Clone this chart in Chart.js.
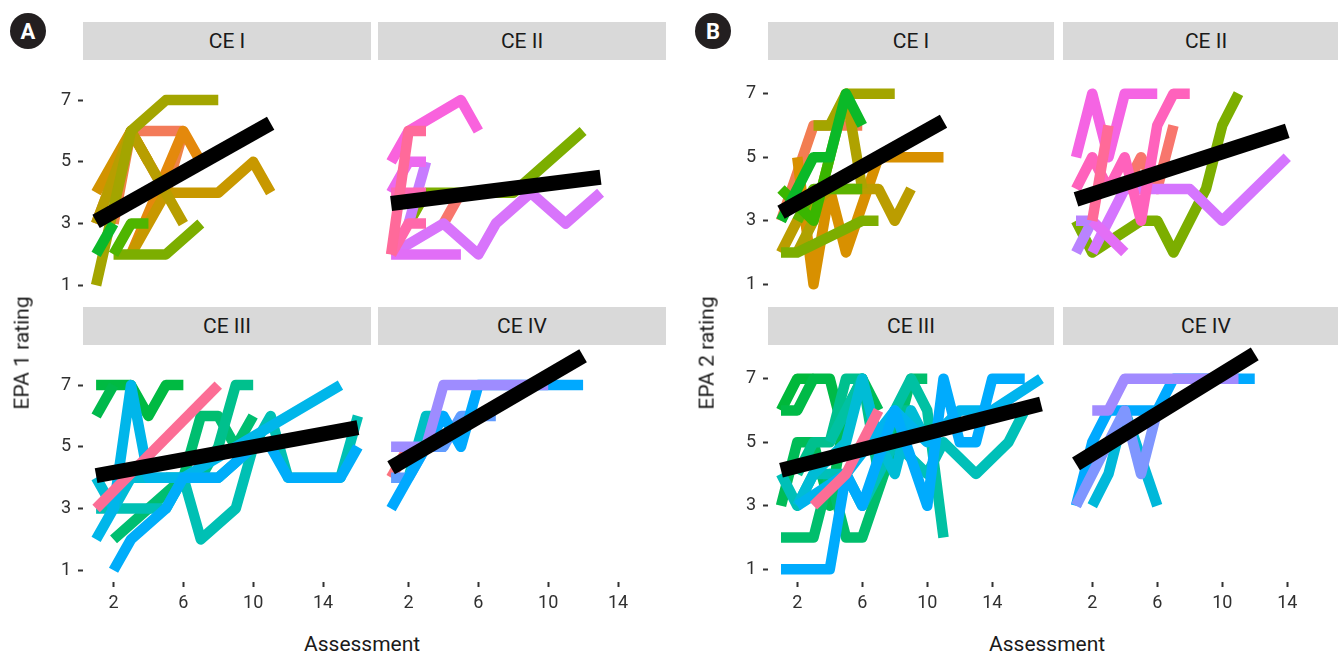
<!DOCTYPE html>
<html><head><meta charset="utf-8">
<script src="https://cdn.jsdelivr.net/npm/chart.js@4.4.0/dist/chart.umd.min.js"></script>
<style>
html,body{margin:0;padding:0;background:#fff;width:1338px;height:657px;overflow:hidden;font-family:Roboto,sans-serif;}
body{position:relative;}
.strip{position:absolute;background:#D9D9D9;color:#1A1A1A;font-size:21px;display:flex;align-items:center;justify-content:center;}
.badge{position:absolute;width:36px;height:36px;border-radius:50%;background:#231F20;color:#fff;font-weight:bold;font-size:22px;display:flex;align-items:center;justify-content:center;}
.title{position:absolute;color:#1A1A1A;font-size:21px;white-space:nowrap;}
canvas{position:absolute;}
</style></head><body>
<script>
// ---------- data ----------
const xTicks = [2, 6, 10, 14];
const yTicks = [1, 3, 5, 7];
const facetNames = ['CE I', 'CE II', 'CE III', 'CE IV'];

// Panel A (EPA 1 rating)
const a1Lines = [
  [[1,3],[3,6],[6,6]],
  [[2,3],[3,6],[5,4],[6,6]],
  [[3,2],[6,6],[7,5]],
  [[1,4],[3,6],[4,5]],
  [[3,2],[5,4],[8,4],[10,5],[11,4]],
  [[1,3],[3,6],[6,3]],
  [[1,1],[3,6],[5,7],[8,7]],
  [[2,2],[5,2],[7,3]],
  [[2,2],[3,3],[4,3]],
  [[1,2],[2,3]]
];
const a1Colors = ['#F37B59','#EE8247','#E4890C','#D29300','#C89800','#B89E00','#A3A500','#7CAE00','#4FB500','#0CB82A'];
const a1Trend = [[1,3.07],[11,6.25]];

const a2Lines = [
  [[4,3],[5,4]],
  [[2,3],[3,4],[8,4],[12,6]],
  [[2,3],[3,5]],
  [[1,2],[4,3],[6,2],[7,3],[9,4],[11,3],[13,4]],
  [[1,2],[5,2]],
  [[1,4],[2,5],[3,5]],
  [[1,5],[2,6],[5,7],[6,6]],
  [[1,4],[2,4],[3,4]],
  [[1,2],[2,3],[3,3]],
  [[1,2],[2,6],[3,6]]
];
const a2Colors = ['#F8766D','#7CAE00','#C77CFF','#D874FB','#E16EF7','#EC69EF','#F962DD','#FF66B5','#FF68AA','#FF6A9A'];
const a2Trend = [[1,3.65],[13,4.5]];

const a3Lines = [
  [[1,7],[3,7],[4,6],[5,7],[6,7]],
  [[1,6],[2,7]],
  [[2,2],[4,3],[6,4],[7,6],[8,6],[9,5],[10,6]],
  [[5,4],[6,4],[7,4],[8,5],[9,7],[10,7]],
  [[1,3],[5,3],[6,4],[7,2],[9,3],[10,5],[11,6],[12,4],[15,4],[16,6]],
  [[1,4],[2,3],[3,4],[8,4],[10,5]],
  [[1,2],[2,3],[3,7],[4,4],[6,4],[15,7]],
  [[2,1],[3,2],[5,3],[6,4],[8,4],[10,5],[11,5],[12,4],[15,4],[16,5]],
  [[1,3],[8,7]]
];
const a3Colors = ['#00BA42','#00B94C','#00BE70','#00C08D','#00C0B4','#00BCD6','#00B6EA','#00ADFA','#FC6D95'];
const a3Trend = [[1,4.07],[16,5.62]];

const a4Lines = [
  [[1,4],[2,5]],
  [[2,4],[3,6],[4,6]],
  [[1,4],[2,4],[3,5],[4,5],[5,6],[7,6]],
  [[1,3],[2,4],[3,5],[4,6],[5,5],[6,7],[12,7]],
  [[1,5],[3,5],[4,7],[10,7]]
];
const a4Colors = ['#FB727E','#00BFC4','#619CFF','#00A9FF','#9E8CFF'];
const a4Trend = [[1,4.32],[12,7.95]];

// Panel B (EPA 2 rating)
const b1Lines = [
  [[1,3],[3,6],[6,6]],
  [[2,5],[3,1],[4,4],[5,2],[7,5],[11,5]],
  [[1,2],[2,3],[4,4],[7,4],[8,3],[9,4]],
  [[2,2],[3,3],[5,7],[6,4]],
  [[3,6],[4,6],[5,7],[8,7]],
  [[1,2],[2,2],[6,3],[7,3]],
  [[2,3],[3,4],[6,4]],
  [[1,4],[3,3],[4,5]],
  [[1,3],[3,5],[4,5],[5,7],[6,6]]
];
const b1Colors = ['#F27D52','#D89000','#BB9D00','#AFA200','#A3A500','#7CAE00','#5BB300','#39B600','#0BB928'];
const b1Trend = [[1,3.27],[11,6.13]];

const b2Lines = [
  [[4,4],[5,5],[6,4],[7,6]],
  [[1,3],[2,2],[5,3],[6,3],[7,2],[9,4],[10,6],[11,7]],
  [[1,3],[2,3],[1,2]],
  [[2,2],[3,3],[4,4],[8,4],[10,3],[14,5]],
  [[2,3],[4,2]],
  [[1,5],[2,7],[3,5],[4,7],[6,7]],
  [[1,4],[2,5],[3,4],[4,5],[5,3],[6,6],[7,7],[8,7]],
  [[2,3],[3,6]]
];
const b2Colors = ['#F8766D','#7CAE00','#B983FF','#D575FE','#E36EF6','#F564E3','#FF62BC','#FF6A98'];
const b2Trend = [[1,3.67],[14,5.83]];

const b3Lines = [
  [[1,6],[2,7],[3,7]],
  [[1,6],[2,6],[3,7],[4,7],[5,5]],
  [[1,3],[2,5],[3,5],[4,3],[5,6],[6,7],[7,6]],
  [[1,2],[3,2],[4,4],[5,2],[6,2],[8,5],[9,7],[10,7]],
  [[2,4],[3,5],[4,5],[5,7],[6,7],[7,4],[8,6],[9,6]],
  [[4,5],[6,7],[7,5],[8,6],[9,7],[10,6],[11,2]],
  [[1,4],[2,3],[3,4],[5,4],[6,3],[8,5],[10,4],[11,5],[13,4],[15,5],[16,6]],
  [[2,3],[3,4],[5,5],[6,7],[7,5],[8,4],[9,6],[10,5]],
  [[2,3],[5,4],[8,6],[10,5],[12,6],[14,6],[17,7]],
  [[1,1],[4,1],[5,4],[6,3],[8,6],[10,3],[11,7],[12,5],[13,5],[14,7],[16,7]],
  [[3,3],[5,4],[7,6]]
];
const b3Colors = ['#00B83A','#00BA47','#00BC56','#00BE6C','#00C08E','#00C1A3','#00C0B8','#00BCD6','#00B4EE','#00ABFD','#FC6D95'];
const b3Trend = [[1,4.12],[17,6.2]];

const b4Lines = [
  [[2,3],[3,4],[4,6],[6,3]],
  [[1,3],[2,5],[3,6],[6,6],[7,7],[12,7]],
  [[1,3],[4,6],[5,4],[6,6]],
  [[2,6],[3,6],[4,7],[11,7]]
];
const b4Colors = ['#00B8DA','#00A9FF','#7F96FF','#A18AFF'];
const b4Trend = [[1,4.32],[12,7.78]];

// ---------- layout ----------
const panels = [
  {badge:'A', bx:10, by:13, xMin:0.25, xMax:16.75, yMin:0.62, yMax:8.3, cols:[83,378], w:288, rows:[60,345], h:237,
   ytitle:'EPA 1 rating', ytx:21, xtx:362,
   facets:[[a1Lines,a1Colors,a1Trend],[a2Lines,a2Colors,a2Trend],[a3Lines,a3Colors,a3Trend],[a4Lines,a4Colors,a4Trend]]},
  {badge:'B', bx:695, by:13, xMin:0.2, xMax:17.8, yMin:0.6, yMax:8.06, cols:[768,1063], w:286, rows:[60,345], h:237,
   ytitle:'EPA 2 rating', ytx:706, xtx:1047,
   facets:[[b1Lines,b1Colors,b1Trend],[b2Lines,b2Colors,b2Trend],[b3Lines,b3Colors,b3Trend],[b4Lines,b4Colors,b4Trend]]}
];
const YAXW = 55, XAXH = 48, PAD = 22, FONT = 'Roboto';

function el(tag, cls, css, text){
  const d = document.createElement(tag);
  if (cls) d.className = cls;
  Object.assign(d.style, css);
  if (text !== undefined) d.textContent = text;
  document.body.appendChild(d);
  return d;
}

panels.forEach(P => {
  el('div','badge',{left:P.bx+'px',top:P.by+'px'},P.badge);
  P.facets.forEach((F, i) => {
    const c = i % 2, r = Math.floor(i / 2);
    const pl = P.cols[c], pt = P.rows[r];
    el('div','strip',{left:pl+'px',top:(pt-38)+'px',width:P.w+'px',height:'38px'},facetNames[i]);
    const showY = c === 0, showX = r === 1;
    const cl = showY ? pl - YAXW : pl;
    const cw = P.w + (showY ? YAXW : 0);
    const ch = PAD + P.h + (showX ? XAXH : PAD);
    const cv = document.createElement('canvas');
    cv.width = cw; cv.height = ch;
    cv.style.left = cl + 'px'; cv.style.top = (pt - PAD) + 'px';
    cv.style.width = cw + 'px'; cv.style.height = ch + 'px';
    document.body.appendChild(cv);
    const [lines, colors, trend] = F;
    const n = lines.length;
    const ds = lines.map((L, k) => ({
      data: L.map(p => ({x:p[0], y:p[1]})),
      borderColor: colors[k], borderWidth: 10.5,
      borderJoinStyle: 'round', borderCapStyle: 'butt',
      pointRadius: 0, fill: false, tension: 0, order: n - k
    }));
    ds.push({
      data: trend.map(p => ({x:p[0], y:p[1]})),
      borderColor: '#000000', borderWidth: 15,
      borderCapStyle: 'butt', pointRadius: 0, fill: false, tension: 0, order: 0
    });
    const tickCommon = {font:{family:FONT,size:18}, color:'#303030', autoSkip:false, maxRotation:0};
    const gridCommon = {drawOnChartArea:false, drawTicks:true, tickLength:5, tickColor:'#333333', tickWidth:2};
    new Chart(cv, {
      type: 'line',
      data: {datasets: ds},
      options: {
        responsive:false, animation:false, devicePixelRatio:1,
        layout:{padding:{top:PAD, bottom: showX ? 0 : PAD, left:0, right:0}},
        plugins:{legend:{display:false}, tooltip:{enabled:false}},
        scales:{
          x:{type:'linear', min:P.xMin, max:P.xMax, display: showX,
             afterBuildTicks(s){ s.ticks = xTicks.map(v => ({value:v})); },
             afterFit(s){ s.height = showX ? XAXH : 0; },
             grid: gridCommon, border:{display:false},
             ticks: Object.assign({padding:6}, tickCommon)},
          y:{type:'linear', min:P.yMin, max:P.yMax, display: showY,
             afterBuildTicks(s){ s.ticks = yTicks.map(v => ({value:v})); },
             afterFit(s){ s.width = showY ? YAXW : 0; },
             grid: gridCommon, border:{display:false},
             ticks: Object.assign({padding:7}, tickCommon)}
        }
      }
    });
  });
  // axis titles
  const xt = el('div','title',{top:'632px'},'Assessment');
  xt.style.left = (P.xtx - xt.offsetWidth/2) + 'px';
  const yt = el('div','title',{},P.ytitle);
  const w = yt.offsetWidth, h = yt.offsetHeight;
  yt.style.left = (P.ytx - w/2) + 'px';
  yt.style.top = (353 - h/2) + 'px';
  yt.style.transform = 'rotate(-90deg)';
});
</script>
</body></html>
